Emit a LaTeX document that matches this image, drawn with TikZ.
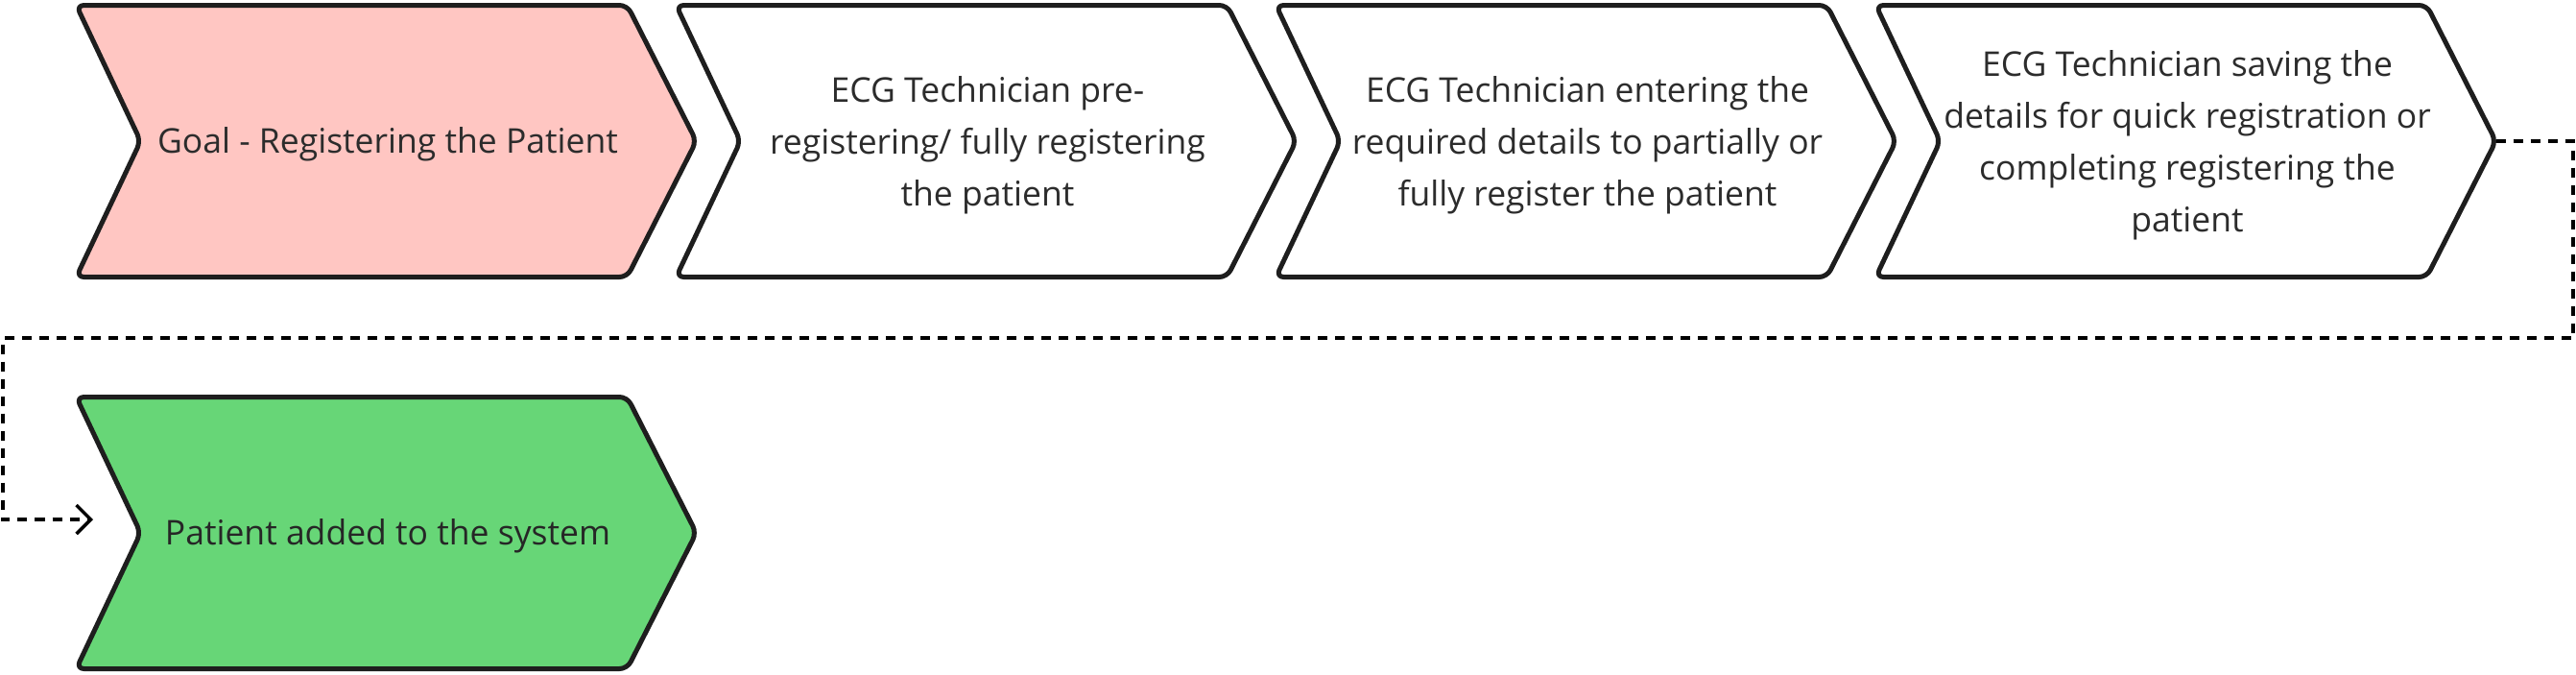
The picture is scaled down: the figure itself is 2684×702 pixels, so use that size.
\documentclass[tikz,border=0pt]{standalone}
\usepackage{fontspec}
\setmainfont{Open Sans}
\usetikzlibrary{arrows.meta}
\definecolor{edgec}{HTML}{1E1E1E}
\definecolor{textc}{HTML}{2C2C2C}
\definecolor{goalc}{HTML}{FFC6C2}
\definecolor{donec}{HTML}{67D677}
\tikzset{
  chev/.style={draw=edgec, line width=5pt, rounded corners=8pt, line join=round},
  lbl/.style={text=textc, align=center, inner sep=0pt, font=\fontsize{35.5}{54}\selectfont},
  flow/.style={draw=black, line width=4pt, dash pattern=on 10pt off 8pt,
    -{Straight Barb[length=15pt,width=30pt,line width=3.5pt]}},
}
\newcommand{\chevpath}[3]{% x0, ycenter, fill
  \path[chev, fill=#3] (#1,#2-141.5) -- (#1+574,#2-141.5) -- (#1+646,#2)
    -- (#1+574,#2+141.5) -- (#1,#2+141.5) -- (#1+67,#2) -- cycle;}
\begin{document}
\begin{tikzpicture}[x=1pt,y=-1pt]
\useasboundingbox[fill=white] (0,0) rectangle (2684,702);
\chevpath{79.5}{147}{goalc}
\chevpath{704.5}{147}{white}
\chevpath{1329.5}{147}{white}
\chevpath{1954.5}{147}{white}
\chevpath{79.5}{555}{donec}
\node[lbl] (t1) at (404,150) {Goal - Registering the Patient};
\node[lbl] (t2) at (1029,151) {ECG Technician pre-\\registering/ fully registering\\the patient};
\node[lbl] (t3) at (1654,151) {ECG Technician entering the\\required details to partially or\\fully register the patient};
\node[lbl] (t4) at (2279,151) {ECG Technician saving the\\details for quick registration or\\completing registering the\\patient};
\node[lbl, text=black!85] (t5) at (404,558) {Patient added to the system};
\coordinate (tip4) at (2600.5,147);
\coordinate (r1) at (2681,352);
\coordinate (l2) at (3,541);
\coordinate (in5) at (97,541);
\draw[flow] (tip4) -| (r1) -| (l2) -- (in5);
\end{tikzpicture}
\end{document}
